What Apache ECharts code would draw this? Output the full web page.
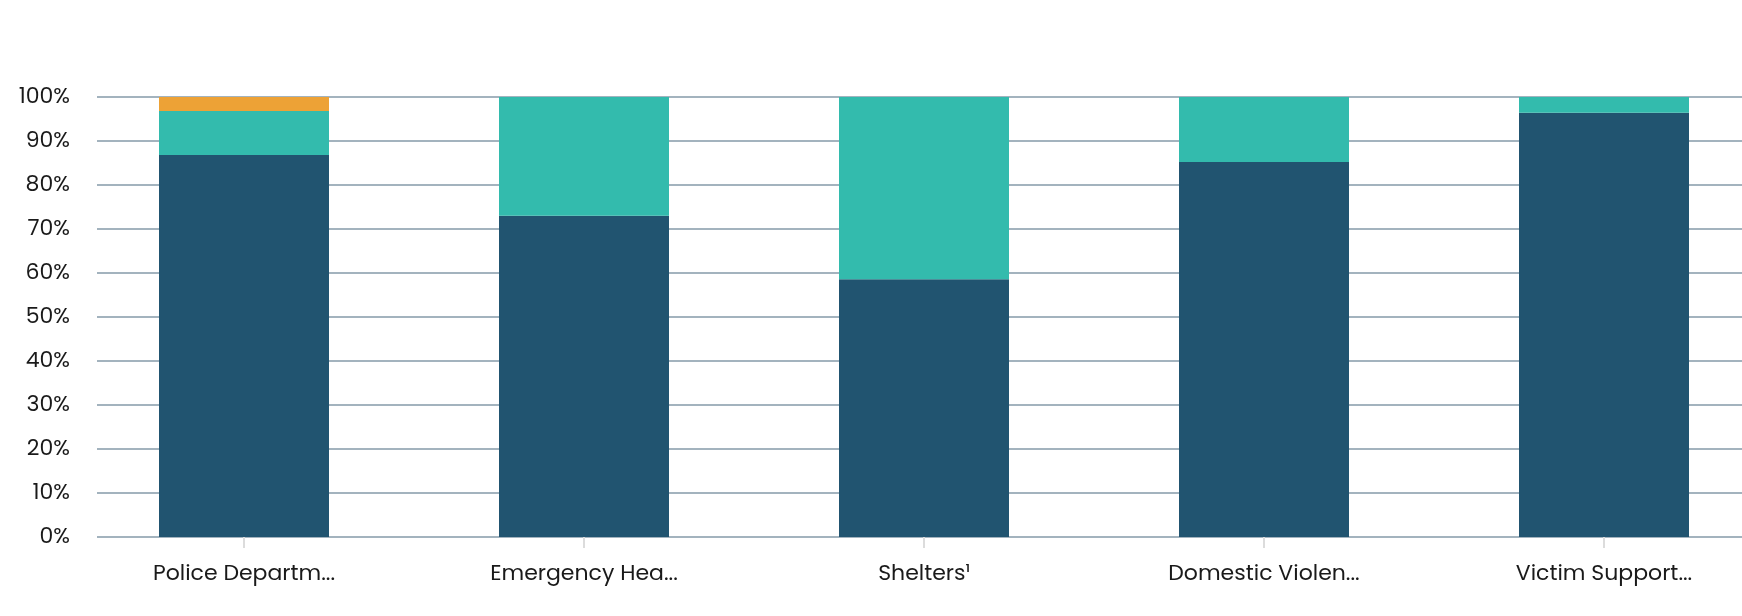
<!DOCTYPE html>
<html><head><meta charset="utf-8">
<script src="https://cdn.jsdelivr.net/npm/echarts@6/dist/echarts.min.js"></script>
<style>html,body{margin:0;padding:0;background:#fff}#c{width:1742px;height:616px}</style>
</head><body><div id="c"></div>
<script>
var categories = ["Police Departm...", "Emergency Hea...", "Shelters\u00b9", "Domestic Violen...", "Victim Support..."];
var seriesDark = [86.8, 73, 58.6, 85.2, 96.4];
var seriesTeal = [10, 27, 41.4, 14.8, 3.6];
var seriesOrange = [3.2, 0, 0, 0, 0];
var yTicks = [0, 10, 20, 30, 40, 50, 60, 70, 80, 90, 100];

var font = "'Poppins','Inter','Noto Sans',sans-serif";
var chart = echarts.init(document.getElementById('c'), null, {renderer: 'canvas'});
chart.setOption({
  animation: false,
  grid: [
    {left: 97, right: 0, top: 97, bottom: 79, outerBoundsMode: 'none', containLabel: false},
    {left: 74, width: 1700, top: 97, bottom: 79, outerBoundsMode: 'none', containLabel: false}
  ],
  xAxis: [
    {gridIndex: 0, type: 'value', show: false, min: 0, max: 1},
    {gridIndex: 1, type: 'category', data: categories,
     axisLine: {show: false},
     axisTick: {show: true, alignWithLabel: true, length: 11, lineStyle: {color: '#dcdcdc', width: 2}},
     axisLabel: {margin: 26, fontSize: 22, color: '#1a1a1a', fontFamily: font}
    }
  ],
  yAxis: [
    {gridIndex: 0, type: 'value', min: 0, max: 100, interval: 10,
     axisLine: {show: false}, axisTick: {show: false},
     axisLabel: {margin: 27, fontSize: 22, color: '#1a1a1a', fontFamily: font,
       formatter: function (v) { return yTicks.indexOf(v) >= 0 ? v + '%' : ''; }},
     splitLine: {show: true, lineStyle: {color: '#a3b3be', width: 2}}
    },
    {gridIndex: 1, type: 'value', min: 0, max: 100, show: false}
  ],
  series: [
    {type: 'bar', name: 'a', stack: 's', xAxisIndex: 1, yAxisIndex: 1, data: seriesDark, barWidth: '50%', itemStyle: {color: '#215470'}},
    {type: 'bar', name: 'b', stack: 's', xAxisIndex: 1, yAxisIndex: 1, data: seriesTeal, barWidth: '50%', itemStyle: {color: '#33bbad'}},
    {type: 'bar', name: 'c', stack: 's', xAxisIndex: 1, yAxisIndex: 1, data: seriesOrange, barWidth: '50%', itemStyle: {color: '#eda236'}}
  ]
});
</script></body></html>
